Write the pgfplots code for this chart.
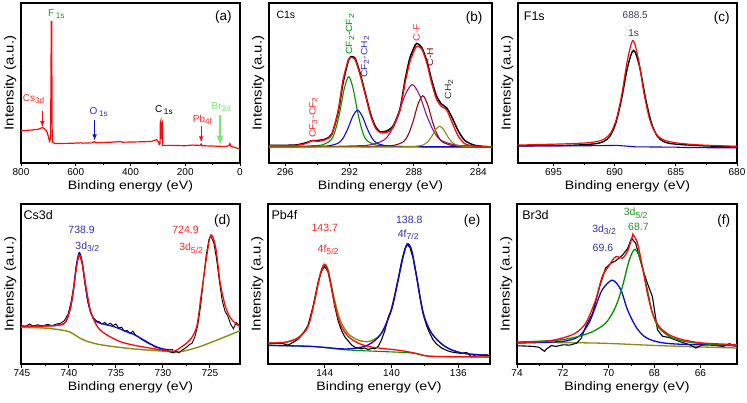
\documentclass[border=0pt]{standalone}
\usepackage{graphicx}
\usepackage{fontspec}
\setmainfont{Liberation Sans}
\usepackage{pgfplots}
\pgfplotsset{compat=1.18}
\definecolor{cred}{RGB}{250,10,10}
\definecolor{cblue}{RGB}{10,10,210}
\definecolor{cgreen}{RGB}{0,145,0}
\definecolor{colive}{RGB}{140,140,20}
\definecolor{cpurple}{RGB}{140,20,160}
\definecolor{cmaroon}{RGB}{140,10,10}
\definecolor{tblue}{RGB}{50,50,170}
\definecolor{tred}{RGB}{250,40,40}
\definecolor{tgreen}{RGB}{40,150,40}
\definecolor{lgreen}{RGB}{120,230,120}
\definecolor{tgray}{RGB}{60,60,80}
\newcommand{\sub}[1]{\raisebox{-0.4ex}{\scalebox{0.82}{#1}}}
\newcommand{\hs}[1]{\scalebox{1.15}[1]{#1}}
\newcommand{\fs}[1]{\fontsize{#1}{#1}\selectfont}
\pgfplotsset{
  xps/.style={
    scale only axis, anchor=south west, height=160pt,
    x dir=reverse, ymin=0, ymax=1, ytick=\empty,
    axis line style={line width=1.1pt},
    xtick pos=left, tick align=outside,
    major tick length=3.5pt, minor tick length=2pt,
    tick style={black, line width=0.9pt},
    minor x tick num=1,
    /pgf/number format/assume math mode=true,
    /pgf/number format/1000 sep={},
    xticklabel style={font=\fs{10}, inner sep=1.5pt},
    xlabel={\scalebox{1.16}[1]{Binding energy (eV)}},
    xlabel style={font=\fs{12.2}, at={(axis description cs:0.5,-0.11)}, anchor=north, inner sep=0pt},
    ylabel={\hs{Intensity (a.u.)}},
    ylabel style={font=\fs{13}, at={(axis description cs:-0.02,0.5)}, anchor=south, inner sep=0pt},
    every axis plot/.append style={line width=1.1pt, no markers},
  },
}
\tikzset{
  ptitle/.style={anchor=west, inner sep=0pt, font=\fs{12.5}},
  plab/.style={anchor=center, inner sep=0pt, font=\fs{13.5}},
}
\begin{document}
\begin{tikzpicture}
\useasboundingbox (0pt,0pt) rectangle (747pt,402pt);
% ---------------- (a) survey
\begin{axis}[xps, at={(21pt,239pt)}, width=219pt, xmin=0, xmax=800, xtick={0,200,400,600,800}]
\addplot[cred, line width=1.2pt] coordinates {(800,0.202) (780,0.204) (760,0.206) (753,0.208) (740,0.21) (730,0.215) (722,0.222) (715,0.215) (706,0.198) (700,0.167) (696,0.135) (694,0.14) (692,0.17) (690.5,0.5) (689.5,0.885) (688,0.885) (687,0.5) (686,0.135) (684,0.13) (676,0.121) (660,0.122) (620,0.123) (580,0.126) (575,0.124) (540,0.126) (531,0.134) (528,0.126) (511,0.128) (470,0.13) (437,0.134) (430,0.13) (400,0.131) (350,0.133) (323,0.135) (304,0.146) (297,0.13) (295,0.115) (292,0.12) (291,0.25) (289.5,0.26) (288,0.15) (286,0.24) (284,0.25) (283,0.2) (282,0.11) (250,0.11) (200,0.108) (175,0.112) (146,0.11) (142,0.119) (139,0.108) (100,0.106) (70,0.104) (49,0.104) (40,0.11) (37,0.121) (33,0.104) (25,0.1) (12,0.094) (5,0.09) (0,0.083)};
\draw[-latex, cred, line width=1pt] (axis cs:722,0.323) -- (axis cs:722,0.225);
\draw[-latex, cblue, line width=1pt] (axis cs:531,0.271) -- (axis cs:531,0.142);
\draw[-latex, cred, line width=1pt] (axis cs:142,0.229) -- (axis cs:142,0.13);
\draw[-latex, lgreen, line width=2.2pt] (axis cs:73,0.302) -- (axis cs:73,0.112);
\node[anchor=west, inner sep=0pt, font=\fs{10}, text=tgreen] at (axis cs:702,0.93) {F\,\sub{1s}};
\node[anchor=west, inner sep=0pt, font=\fs{10}, text=tred] at (axis cs:794,0.40) {Cs\sub{3d}};
\node[anchor=west, inner sep=0pt, font=\fs{10}, text=tblue] at (axis cs:550,0.32) {O\,\sub{1s}};
\node[anchor=west, inner sep=0pt, font=\fs{10}, text=black] at (axis cs:311,0.33) {C\,\sub{1s}};
\node[anchor=west, inner sep=0pt, font=\fs{10}, text=tred] at (axis cs:173,0.27) {Pb\sub{4f}};
\node[anchor=west, inner sep=0pt, font=\fs{10}, text=lgreen] at (axis cs:104,0.35) {Br\sub{3d}};
\node[plab] at (axis description cs:0.924,0.915) {(a)};
\end{axis}
% ---------------- (b) C1s
\begin{axis}[xps, at={(269pt,239pt)}, width=223pt, xmin=283.15, xmax=297, xtick={284,288,292,296}]
\addplot[black, line width=1.5pt, smooth, tension=0.4] coordinates {(297,0.11) (295.4,0.112) (294.76,0.125) (294.3,0.14) (294.0,0.14) (293.5,0.15) (293.1,0.18) (292.7,0.32) (292.4,0.50) (292.07,0.64) (291.9,0.665) (291.65,0.655) (291.34,0.56) (291.03,0.44) (290.7,0.31) (290.4,0.23) (290.1,0.195) (289.7,0.20) (289.3,0.23) (288.86,0.34) (288.55,0.52) (288.24,0.66) (287.9,0.74) (287.76,0.745) (287.5,0.72) (287.2,0.64) (286.9,0.52) (286.6,0.42) (286.3,0.37) (285.97,0.345) (285.66,0.29) (285.24,0.20) (284.83,0.14) (284.2,0.11) (283.2,0.10) (283,0.10)};
\addplot[cblue!60!gray, line width=1pt] coordinates {(283,0.098) (297,0.104)};
\addplot[cgreen, smooth] coordinates {(283,0.101) (288.75,0.1035) (289.85,0.108) (290.4,0.113) (290.95,0.144) (291.225,0.206) (291.5,0.32) (291.775,0.465) (292.05,0.54) (292.325,0.465) (292.6,0.32) (292.875,0.206) (293.15,0.144) (293.7,0.113) (294.25,0.108) (295.35,0.1035) (297,0.102)};
\addplot[cblue, smooth] coordinates {(283,0.101) (287.9,0.102) (289.1,0.104) (289.7,0.107) (290.3,0.124) (290.6,0.155) (290.9,0.215) (291.2,0.291) (291.5,0.33) (291.8,0.291) (292.1,0.215) (292.4,0.155) (292.7,0.124) (293.3,0.107) (293.9,0.104) (295.1,0.102) (297,0.101)};
\addplot[cpurple, smooth] coordinates {(283,0.102) (284.5,0.107) (285.4,0.112) (286.3,0.141) (286.75,0.194) (287.2,0.295) (287.65,0.424) (288.1,0.49) (288.55,0.424) (289,0.295) (289.45,0.194) (289.9,0.141) (290.8,0.112) (291.7,0.107) (293.5,0.103) (297,0.101)};
\addplot[cmaroon, smooth] coordinates {(283,0.101) (283.85,0.103) (285.05,0.106) (285.65,0.11) (286.25,0.133) (286.55,0.177) (286.85,0.26) (287.15,0.366) (287.45,0.42) (287.75,0.366) (288.05,0.26) (288.35,0.177) (288.65,0.133) (289.25,0.11) (289.85,0.106) (291.05,0.103) (297,0.101)};
\addplot[colive, smooth] coordinates {(283,0.1) (283.4,0.101) (284.4,0.102) (284.9,0.104) (285.4,0.1135) (285.65,0.131) (285.9,0.165) (286.15,0.208) (286.4,0.23) (286.65,0.208) (286.9,0.165) (287.15,0.131) (287.4,0.1135) (287.9,0.104) (288.4,0.102) (289.4,0.101) (297,0.1)};
\addplot[cred, line width=1.3pt, smooth, tension=0.4] coordinates {(297,0.11) (295.4,0.11) (294.76,0.12) (294.3,0.14) (294.0,0.135) (293.5,0.146) (293.1,0.177) (292.7,0.33) (292.4,0.52) (292.07,0.646) (291.9,0.66) (291.65,0.646) (291.34,0.55) (291.03,0.43) (290.7,0.30) (290.4,0.22) (290.1,0.19) (289.7,0.19) (289.3,0.22) (288.86,0.33) (288.55,0.50) (288.24,0.635) (287.9,0.72) (287.76,0.73) (287.5,0.71) (287.2,0.625) (286.9,0.50) (286.6,0.40) (286.3,0.354) (285.97,0.333) (285.66,0.26) (285.24,0.167) (284.83,0.12) (284.2,0.104) (283.2,0.098) (283,0.098)};
\node[rotate=90, anchor=west, inner sep=0pt, font=\fs{9}, text=cgreen] at (axis cs:291.97,0.677) {\hs{CF\sub{2}-CF\sub{2}}};
\node[rotate=90, anchor=west, inner sep=0pt, font=\fs{9}, text=tblue] at (axis cs:291.03,0.531) {\hs{CF\sub{2}-CH\sub{2}}};
\node[rotate=90, anchor=west, inner sep=0pt, font=\fs{9}, text=tred] at (axis cs:294.24,0.156) {\hs{CF\sub{3}-CF\sub{2}}};
\node[rotate=90, anchor=west, inner sep=0pt, font=\fs{9}, text=tred] at (axis cs:287.83,0.76) {\hs{C-F}};
\node[rotate=90, anchor=west, inner sep=0pt, font=\fs{9}, text=cmaroon] at (axis cs:287.0,0.604) {\hs{C-H}};
\node[rotate=90, anchor=west, inner sep=0pt, font=\fs{9}, text=black!80] at (axis cs:285.82,0.396) {\hs{CH\sub{2}}};
\node[anchor=west, inner sep=0pt, font=\fs{10.5}] at (axis description cs:0.033,0.925) {C1s};
\node[plab] at (axis description cs:0.92,0.905) {(b)};
\end{axis}
% ---------------- (c) F1s
\begin{axis}[xps, at={(518pt,239pt)}, width=219pt, xmin=680, xmax=697.9, xtick={680,685,690,695}]
\addplot[black, line width=1.4pt, smooth] coordinates {(680,0.102) (682.6,0.107) (684.55,0.115) (685.525,0.123) (686.0125,0.135) (686.5,0.166) (686.9875,0.248) (687.475,0.404) (687.9625,0.602) (688.45,0.704) (688.9375,0.602) (689.425,0.404) (689.9125,0.248) (690.4,0.166) (690.8875,0.135) (691.375,0.123) (692.35,0.115) (694.3,0.109) (697.9,0.107)};
\addplot[cblue, sharp plot] coordinates {(697.9,0.108) (692,0.108) (689.8,0.11) (689.1,0.106) (688.3,0.101) (685,0.099) (684,0.096) (680,0.095)};
\addplot[cred, line width=1.2pt, smooth] coordinates {(680,0.104) (683.1,0.113) (684.9,0.125) (685.8,0.139) (686.25,0.155) (686.7,0.191) (687.15,0.276) (687.6,0.435) (688.05,0.646) (688.5,0.765) (688.95,0.646) (689.4,0.435) (689.85,0.276) (690.3,0.191) (690.75,0.155) (691.2,0.139) (692.1,0.127) (693.9,0.12) (697.9,0.112)};
\node[anchor=center, inner sep=0pt, font=\fs{10}, text=tgray] at (axis cs:688.32,0.927) {688.5};
\node[anchor=center, inner sep=0pt, font=\fs{10}, text=tgray] at (axis cs:688.45,0.81) {1s};
\node[ptitle] at (axis description cs:0.026,0.917) {F1s};
\node[plab] at (axis description cs:0.93,0.905) {(c)};
\end{axis}
% ---------------- (d) Cs3d
\begin{axis}[xps, at={(21pt,38pt)}, width=219pt, xmin=721.8, xmax=745.1, xtick={725,730,735,740,745}]
\addplot[colive, line width=1.4pt, smooth] coordinates {(745.1,0.229) (742.7,0.225) (741,0.214) (739.9,0.2) (738.5,0.152) (736.7,0.121) (733.1,0.094) (729.6,0.079) (728.5,0.073) (726,0.11) (721.8,0.208)};
\addplot[black, line width=0.9pt, sharp plot] coordinates {(745.1,0.24) (744.6,0.235) (744.2,0.25) (743.8,0.238) (743.3,0.245) (742.8,0.236) (742.3,0.248) (741.8,0.24) (741.3,0.25) (740.9,0.255) (740.5,0.27) (740.1,0.31) (739.8,0.38) (739.5,0.48) (739.2,0.62) (738.9,0.69) (738.6,0.63) (738.3,0.50) (738.0,0.39) (737.7,0.32) (737.4,0.29) (737.1,0.27) (736.8,0.265) (736.5,0.25) (736.2,0.26) (735.9,0.245) (735.6,0.255) (735.3,0.24) (735.0,0.25) (734.7,0.225) (734.4,0.23) (734.1,0.205) (733.8,0.21) (733.5,0.19) (733.2,0.205) (732.9,0.18) (732.6,0.17) (732.3,0.155) (732.0,0.145) (731.6,0.13) (731.2,0.12) (730.8,0.105) (730.4,0.10) (730.0,0.09) (729.6,0.085) (729.2,0.075) (728.9,0.07) (728.6,0.08) (728.3,0.07) (728.0,0.085) (727.6,0.10) (727.2,0.12) (726.9,0.13) (726.6,0.17) (726.3,0.24) (726.0,0.36) (725.7,0.52) (725.4,0.68) (725.1,0.78) (724.9,0.80) (724.6,0.76) (724.3,0.66) (724.0,0.52) (723.7,0.40) (723.4,0.33) (723.1,0.30) (722.8,0.25) (722.5,0.22) (722.2,0.26) (721.9,0.24)};
\addplot[cblue, line width=1.3pt, smooth] coordinates {(745.1,0.235) (743.1,0.238) (741.5,0.24) (740.6,0.25) (740.2,0.28) (739.8,0.36) (739.5,0.47) (739.2,0.62) (738.9,0.696) (738.6,0.64) (738.3,0.52) (738.0,0.40) (737.6,0.31) (737.2,0.27) (736.7,0.255) (736.0,0.245) (735.3,0.235) (734.6,0.22) (733.8,0.20) (733.1,0.185) (732.1,0.152) (731.3,0.125) (730.6,0.105) (729.8,0.092) (728.9,0.088)};
\addplot[cred, line width=1.3pt, smooth] coordinates {(745.1,0.235) (743.1,0.236) (741.5,0.24) (740.6,0.25) (740.2,0.28) (739.8,0.36) (739.5,0.47) (739.2,0.6) (738.9,0.68) (738.6,0.63) (738.3,0.52) (738.0,0.42) (737.7,0.33) (737.3,0.27) (736.8,0.22) (736.0,0.183) (734.6,0.141) (733.3,0.12) (732.4,0.11) (730.3,0.089) (728.9,0.079) (728.2,0.10) (727.1,0.152) (726.4,0.235) (725.9,0.443) (725.3,0.69) (724.9,0.807) (724.4,0.734) (723.9,0.505) (723.35,0.36) (722.8,0.287) (722.1,0.245) (721.8,0.235)};
\node[anchor=center, inner sep=0pt, font=\fs{10.5}, text=tblue] at (axis cs:738.65,0.838) {738.9};
\node[anchor=center, inner sep=0pt, font=\fs{10.5}, text=tblue] at (axis cs:738.05,0.734) {3d\sub{3/2}};
\node[anchor=center, inner sep=0pt, font=\fs{10.5}, text=tred] at (axis cs:727.6,0.838) {724.9};
\node[anchor=center, inner sep=0pt, font=\fs{10.5}, text=tred] at (axis cs:727.0,0.723) {3d\sub{5/2}};
\node[ptitle] at (axis description cs:0.011,0.93) {Cs3d};
\node[plab] at (axis description cs:0.92,0.896) {(d)};
\end{axis}
% ---------------- (e) Pb4f
\begin{axis}[xps, at={(268pt,38pt)}, width=222pt, xmin=134.1, xmax=147.4, xtick={136,140,144}]
\addplot[colive, line width=1.4pt, smooth] coordinates {(147.4,0.13) (146.4,0.135) (145.6,0.165) (145.0,0.24) (144.6,0.40) (144.3,0.55) (144.04,0.625) (143.8,0.59) (143.5,0.44) (143.1,0.28) (142.6,0.19) (142.0,0.15) (141.4,0.14) (140.8,0.17) (140.4,0.23) (140.0,0.35) (139.6,0.53) (139.3,0.675) (139.06,0.75) (138.8,0.713) (138.5,0.547) (138.1,0.318) (137.6,0.193) (136.8,0.11) (135.8,0.069) (134.1,0.052)};
\addplot[black, line width=1.1pt, sharp plot] coordinates {(147.4,0.125) (147.0,0.128) (146.6,0.13) (146.2,0.118) (145.9,0.135) (145.6,0.155) (145.3,0.19) (145.0,0.24) (144.7,0.36) (144.4,0.51) (144.2,0.58) (144.0,0.61) (143.8,0.575) (143.6,0.48) (143.4,0.36) (143.2,0.27) (143.0,0.21) (142.8,0.17) (142.6,0.145) (142.4,0.12) (142.2,0.105) (142.0,0.1) (141.8,0.095) (141.6,0.1) (141.4,0.09) (141.2,0.098) (141.0,0.095) (140.8,0.11) (140.6,0.15) (140.4,0.21) (140.2,0.29) (140.0,0.34) (139.8,0.43) (139.6,0.53) (139.4,0.64) (139.2,0.72) (139.05,0.745) (138.9,0.73) (138.7,0.66) (138.5,0.55) (138.3,0.42) (138.1,0.31) (137.9,0.24) (137.7,0.19) (137.5,0.15) (137.3,0.125) (137.0,0.10) (136.7,0.085) (136.4,0.075) (136.1,0.07) (135.8,0.066) (135.5,0.072) (135.2,0.045) (134.9,0.06) (134.6,0.055) (134.3,0.058) (134.1,0.05)};
\addplot[cgreen, smooth] coordinates {(147.4,0.116) (144.8,0.11) (142.8,0.089) (140.8,0.079) (138.8,0.069) (137.6,0.048) (134.1,0.044)};
\addplot[cblue, line width=1.3pt, smooth] coordinates {(147.4,0.116) (144.8,0.11) (142.8,0.094) (141.8,0.105) (141.2,0.131) (140.6,0.193) (140.0,0.339) (139.6,0.526) (139.3,0.672) (139.06,0.75) (138.8,0.713) (138.5,0.547) (138.1,0.318) (137.6,0.193) (136.8,0.11) (135.8,0.069) (134.1,0.052)};
\addplot[cred, line width=1.3pt, smooth] coordinates {(147.4,0.131) (146.4,0.135) (145.6,0.162) (145.0,0.235) (144.6,0.40) (144.3,0.547) (144.04,0.62) (143.8,0.578) (143.5,0.42) (143.1,0.256) (142.6,0.173) (142.0,0.131) (141.4,0.11) (140.8,0.10) (139.8,0.089) (139.2,0.08) (138.4,0.064) (137.6,0.048) (134.1,0.044)};
\node[anchor=center, inner sep=0pt, font=\fs{10.5}, text=tred] at (axis cs:144.0,0.848) {143.7};
\node[anchor=center, inner sep=0pt, font=\fs{10.5}, text=tred] at (axis cs:143.8,0.713) {4f\sub{5/2}};
\node[anchor=center, inner sep=0pt, font=\fs{10.5}, text=tblue] at (axis cs:138.94,0.90) {138.8};
\node[anchor=center, inner sep=0pt, font=\fs{10.5}, text=tblue] at (axis cs:139.0,0.807) {4f\sub{7/2}};
\node[ptitle] at (axis description cs:0.015,0.93) {Pb4f};
\node[plab] at (axis description cs:0.92,0.896) {(e)};
\end{axis}
% ---------------- (f) Br3d
\begin{axis}[xps, at={(517pt,38pt)}, width=220pt, xmin=64.4, xmax=74, xtick={66,68,70,72,74}]
\addplot[colive, line width=1.3pt, smooth] coordinates {(74,0.135) (70.57,0.131) (67.65,0.114) (64.37,0.1)};
\addplot[black, line width=1.1pt, sharp plot] coordinates {(74,0.114) (73.6,0.112) (73.3,0.11) (73.05,0.105) (72.9,0.09) (72.8,0.079) (72.7,0.095) (72.5,0.115) (72.3,0.11) (72.0,0.12) (71.7,0.118) (71.4,0.13) (71.2,0.16) (71.0,0.235) (70.7,0.318) (70.57,0.39) (70.35,0.505) (70.13,0.60) (69.9,0.63) (69.69,0.645) (69.4,0.68) (69.18,0.72) (69.0,0.786) (68.82,0.755) (68.53,0.60) (68.31,0.505) (68.09,0.42) (67.87,0.214) (67.65,0.173) (67.36,0.166) (66.92,0.141) (66.48,0.121) (66.19,0.10) (65.9,0.12) (65.6,0.127) (65.3,0.115) (65.0,0.11) (64.73,0.127) (64.5,0.112) (64.37,0.115)};
\addplot[cblue, line width=1.3pt, smooth] coordinates {(74,0.131) (72.03,0.141) (71.3,0.173) (70.86,0.256) (70.57,0.36) (70.28,0.464) (69.84,0.524) (69.47,0.464) (69.18,0.339) (68.82,0.235) (68.45,0.173) (67.94,0.141) (67.07,0.125) (64.37,0.114)};
\addplot[cgreen, line width=1.3pt, smooth] coordinates {(74,0.137) (72.03,0.152) (70.86,0.193) (70.13,0.256) (69.69,0.36) (69.4,0.484) (69.1,0.65) (68.85,0.717) (68.6,0.645) (68.31,0.464) (68.09,0.318) (67.8,0.225) (67.2,0.162) (66.19,0.131) (64.37,0.116)};
\addplot[cred, line width=1.3pt, smooth] coordinates {(74,0.135) (72.76,0.141) (72.03,0.162) (71.45,0.193) (71.0,0.256) (70.57,0.40) (70.28,0.547) (69.99,0.613) (69.77,0.661) (69.62,0.672) (69.4,0.661) (69.18,0.703) (68.96,0.80) (68.93,0.807) (68.74,0.755) (68.53,0.609) (68.31,0.443) (68.09,0.318) (67.8,0.235) (67.36,0.183) (66.77,0.152) (65.9,0.131) (64.37,0.121)};
\node[anchor=center, inner sep=0pt, font=\fs{10.5}, text=tgreen] at (axis cs:68.82,0.942) {3d\sub{5/2}};
\node[anchor=center, inner sep=0pt, font=\fs{10.5}, text=tgreen] at (axis cs:68.7,0.859) {68.7};
\node[anchor=center, inner sep=0pt, font=\fs{10.5}, text=tblue] at (axis cs:70.2,0.838) {3d\sub{3/2}};
\node[anchor=center, inner sep=0pt, font=\fs{10.5}, text=tblue] at (axis cs:70.25,0.723) {69.6};
\node[ptitle] at (axis description cs:0.023,0.93) {Br3d};
\node[plab] at (axis description cs:0.94,0.896) {(f)};
\end{axis}
\end{tikzpicture}
\end{document}
